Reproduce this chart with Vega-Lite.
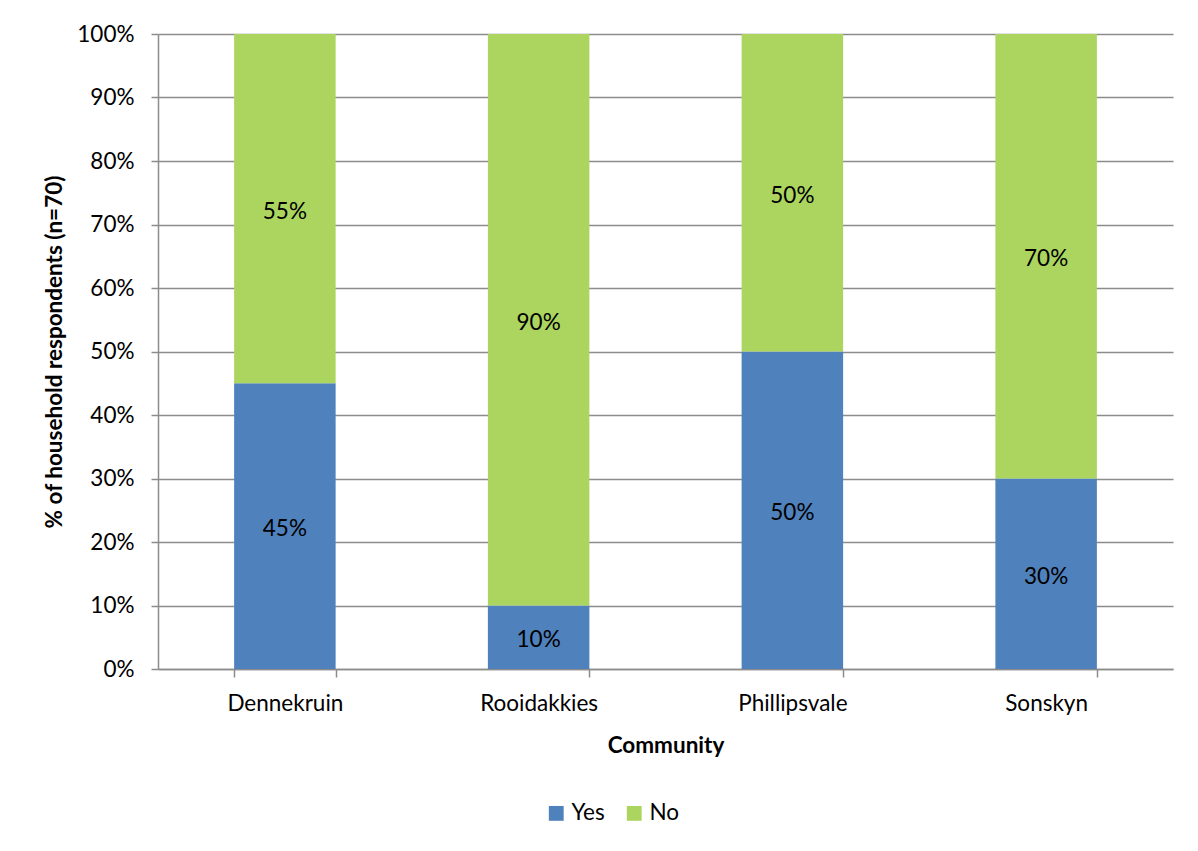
{
  "$schema": "https://vega.github.io/schema/vega-lite/v6.json",
  "width": 1015,
  "height": 635,
  "autosize": {"type": "none"},
  "padding": {"left": 158, "top": 34, "right": 25, "bottom": 182},
  "background": "white",
  "config": {
    "font": "Lato",
    "view": {"stroke": null},
    "axis": {
      "labelFont": "Lato",
      "titleFont": "Lato",
      "labelFontSize": 22.5,
      "titleFontSize": 22.5,
      "labelColor": "#000000",
      "titleColor": "#000000",
      "titleFontWeight": "bold",
      "domainColor": "#8c8c8c",
      "tickColor": "#8c8c8c",
      "gridColor": "#8c8c8c",
      "domainWidth": 1.5,
      "tickWidth": 1.5,
      "gridWidth": 1.5
    },
    "legend": {
      "labelFont": "Lato",
      "labelFontSize": 22.5,
      "labelColor": "#000000"
    }
  },
  "data": {
    "values": [
      {"community": "Dennekruin", "answer": "Yes", "order": 1, "value": 0.45},
      {"community": "Dennekruin", "answer": "No", "order": 2, "value": 0.55},
      {"community": "Rooidakkies", "answer": "Yes", "order": 1, "value": 0.10},
      {"community": "Rooidakkies", "answer": "No", "order": 2, "value": 0.90},
      {"community": "Phillipsvale", "answer": "Yes", "order": 1, "value": 0.50},
      {"community": "Phillipsvale", "answer": "No", "order": 2, "value": 0.50},
      {"community": "Sonskyn", "answer": "Yes", "order": 1, "value": 0.30},
      {"community": "Sonskyn", "answer": "No", "order": 2, "value": 0.70}
    ]
  },
  "transform": [
    {"stack": "value", "groupby": ["community"], "sort": [{"field": "order", "order": "ascending"}], "as": ["v0", "v1"]},
    {"calculate": "(datum.v0 + datum.v1) / 2", "as": "mid"}
  ],
  "encoding": {
    "x": {
      "field": "community",
      "type": "nominal",
      "sort": ["Dennekruin", "Rooidakkies", "Phillipsvale", "Sonskyn"],
      "scale": {"paddingInner": 0.6, "paddingOuter": 0.3},
      "axis": {
        "title": "Community",
        "labelAngle": 0,
        "tickBand": "extent",
        "tickSize": 8,
        "labelPadding": 15,
        "titlePadding": 20,
        "grid": false
      }
    }
  },
  "layer": [
    {
      "mark": {"type": "bar"},
      "encoding": {
        "y": {
          "field": "v0",
          "type": "quantitative",
          "scale": {"domain": [0, 1]},
          "axis": {
            "title": "% of household respondents (n=70)",
            "format": ".0%",
            "values": [0, 0.1, 0.2, 0.3, 0.4, 0.5, 0.6, 0.7, 0.8, 0.9, 1],
            "grid": true,
            "tickSize": 7,
            "labelPadding": 17,
            "titlePadding": 10
          }
        },
        "y2": {"field": "v1"},
        "color": {
          "field": "answer",
          "type": "nominal",
          "scale": {"domain": ["Yes", "No"], "range": ["#4F81BD", "#ABD55E"]},
          "legend": {
            "title": null,
            "orient": "none",
            "legendX": 387,
            "legendY": 768,
            "direction": "horizontal",
            "symbolType": "square",
            "symbolSize": 220,
            "symbolStrokeWidth": 0,
            "columnPadding": 18
          }
        }
      }
    },
    {
      "mark": {"type": "text", "fontSize": 22.5, "color": "#000000", "baseline": "middle", "align": "center", "dy": 3},
      "encoding": {
        "y": {"field": "mid", "type": "quantitative"},
        "text": {"field": "value", "type": "quantitative", "format": ".0%"}
      }
    }
  ]
}
